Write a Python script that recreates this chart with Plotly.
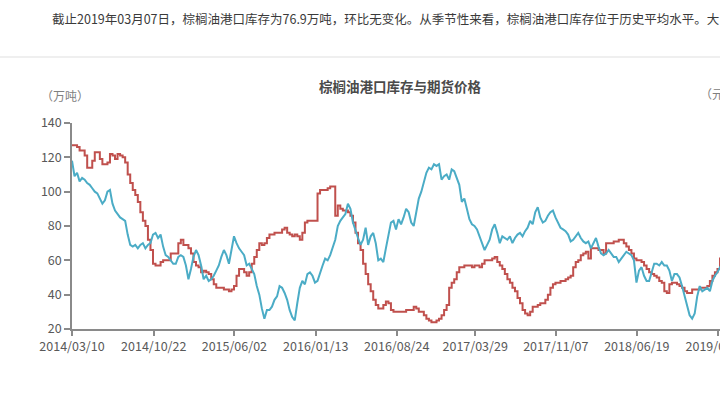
import pandas as pd
import plotly.graph_objects as go

# ---- data ----
start_date = "2014-03-10"          # first weekly observation
tick_dates = ["2014-03-10", "2014-10-22", "2015-06-02", "2016-01-13", "2016-08-24",
              "2017-03-29", "2017-11-07", "2018-06-19", "2019-01-30"]

# palm oil port inventory, 万吨 (weekly)
inventory = [
    127, 127, 126, 124, 124, 121, 114, 114, 118, 123,
    123, 119, 116, 116, 117, 122, 121, 119, 122, 121,
    120, 117, 110, 105, 101, 98, 94, 88, 83, 80,
    72, 66, 58, 57, 57, 59, 60, 60, 60, 64,
    64, 64, 70, 72, 69, 69, 67, 64, 59, 57,
    56, 53, 54, 53, 52, 49, 46, 44, 44, 44,
    43, 43, 42, 43, 45, 51, 55, 55, 53, 51,
    53, 58, 62, 66, 70, 69, 70, 73, 75, 75,
    76, 76, 76, 78, 79, 76, 75, 74, 75, 74,
    72, 76, 82, 83, 83, 83, 83, 99, 101, 101,
    101, 102, 103, 103, 86, 92, 90, 89, 89, 88,
    86, 82, 76, 70, 66, 58, 52, 46, 42, 37,
    34, 32, 32, 34, 36, 35, 31, 30, 30, 30,
    30, 30, 31, 31, 31, 33, 32, 30, 30, 28,
    26, 25, 24, 24, 25, 26, 28, 31, 34, 44,
    47, 49, 53, 56, 56, 57, 57, 57, 56, 57,
    57, 56, 58, 60, 60, 60, 61, 62, 59, 57,
    55, 52, 49, 47, 44, 42, 38, 35, 31, 29,
    28, 30, 33, 33, 34, 35, 35, 37, 40, 44,
    46, 47, 47, 48, 48, 49, 50, 51, 56, 59,
    60, 63, 64, 65, 61, 67, 67, 67, 66, 66,
    64, 70, 70, 70, 71, 71, 72, 72, 70, 68,
    66, 64, 61, 60, 60, 59, 57, 55, 53, 52,
    51, 50, 48, 47, 42, 41, 46, 47, 47, 46,
    45, 44, 42, 41, 41, 43, 43, 43, 44, 44,
    44, 45, 48, 51, 53, 55, 61, 62,
]

# palm oil futures price, 元/吨 (weekly)
futures = [
    6450, 6225, 6275, 6150, 6200, 6175, 6125, 6100, 6050, 6000,
    5975, 5900, 5825, 5875, 6000, 6025, 5825, 5725, 5675, 5625,
    5600, 5575, 5375, 5225, 5200, 5225, 5175, 5225, 5250, 5175,
    5225, 5250, 5375, 5400, 5325, 5375, 5200, 5075, 5050, 5000,
    4950, 4950, 5050, 5075, 5050, 4925, 4725, 4875, 5050, 5150,
    5075, 4925, 4725, 4775, 4700, 4725, 4775, 4850, 4925, 5050,
    5150, 5075, 4950, 5150, 5350, 5250, 5175, 5125, 5075, 4925,
    4950, 4875, 4800, 4625, 4500, 4300, 4150, 4275, 4275, 4325,
    4425, 4475, 4625, 4600, 4525, 4425, 4275, 4175, 4125, 4375,
    4600, 4700, 4650, 4800, 4825, 4775, 4675, 4700, 4825, 4925,
    5025, 5000, 5075, 5175, 5300, 5500, 5575, 5625, 5675, 5825,
    5750, 5550, 5425, 5325, 5225, 5300, 5475, 5225, 5350, 5400,
    5250, 5000, 5025, 4975, 5175, 5350, 5550, 5575, 5450, 5600,
    5525, 5625, 5750, 5700, 5550, 5500, 5700, 5900, 6000, 6150,
    6275, 6350, 6325, 6400, 6375, 6400, 6175, 6225, 6250, 6175,
    6325, 6300, 6200, 6100, 5850, 5900, 5750, 5600, 5525, 5500,
    5450, 5350, 5250, 5150, 5225, 5300, 5450, 5525, 5400, 5250,
    5350, 5325, 5300, 5350, 5250, 5325, 5375, 5400, 5350, 5425,
    5475, 5575, 5525, 5700, 5775, 5625, 5550, 5575, 5650, 5700,
    5725, 5625, 5550, 5475, 5450, 5425, 5375, 5275, 5300, 5350,
    5400, 5325, 5275, 5250, 5275, 5175, 5250, 5325, 5200, 5100,
    5075, 5100, 5150, 5100, 5050, 5050, 4975, 5025, 5075, 5125,
    5100, 5075, 5000, 4675, 4850, 4900, 4775, 4700, 4700, 4825,
    4950, 4950, 4925, 4975, 4925, 4925, 4850, 4700, 4800, 4800,
    4750, 4625, 4475, 4325, 4200, 4150, 4225, 4475, 4625, 4550,
    4575, 4600, 4550, 4700, 4775, 4825, 4900, 4950,
]

dates = pd.date_range(start_date, periods=len(inventory), freq="7D")

top_text = "截止2019年03月07日，棕榈油港口库存为76.9万吨，环比无变化。从季节性来看，棕榈油港口库存位于历史平均水平。大"
chart_title = "棕榈油港口库存与期货价格"
left_unit = "（万吨）"
right_unit = "（元/吨）"

# ---- styling ----
FONT = "Noto Sans CJK SC, Microsoft YaHei, sans-serif"
RED = "#c0504d"
BLUE = "#4bacc6"
AXIS = "#8a8a8a"
TICKTXT = "#595959"

W, H = 720, 409
L, R, T, B = 72, 0, 123, 80
plot_w = W - L - R
plot_h = H - T - B


def px_x(px):
    return (px - L) / plot_w


def px_y(py):
    return (H - B - py) / plot_h


fig = go.Figure()
fig.add_trace(go.Scatter(
    x=dates, y=inventory, mode="lines", line=dict(color=RED, width=2, shape="hv"),
    name="港口库存", yaxis="y"))
fig.add_trace(go.Scatter(
    x=dates, y=futures, mode="lines", line=dict(color=BLUE, width=2),
    name="期货价格", yaxis="y2"))

fig.update_layout(
    width=W, height=H,
    margin=dict(l=L, r=R, t=T, b=B, pad=0, autoexpand=False),
    paper_bgcolor="white", plot_bgcolor="white",
    showlegend=False,
    font=dict(family=FONT, color=TICKTXT),
    xaxis=dict(
        type="date", range=["2014-03-10", "2019-02-04"],
        tickvals=tick_dates, tickformat="%Y/%m/%d",
        ticklabeloverflow="allow", automargin=False,
        showline=True, linecolor=AXIS, linewidth=1.5,
        ticks="outside", ticklen=5, tickcolor=AXIS, tickwidth=1.5,
        tickfont=dict(size=12.5, color=TICKTXT, family=FONT),
        showgrid=False, zeroline=False),
    yaxis=dict(
        range=[20, 140], dtick=20, tick0=20, automargin=False,
        showline=True, linecolor=AXIS, linewidth=1.5,
        ticks="outside", ticklen=6, tickcolor=AXIS, tickwidth=1.5,
        tickfont=dict(size=12.5, color=TICKTXT, family=FONT),
        showgrid=False, zeroline=False),
    yaxis2=dict(overlaying="y", side="right", range=[4000, 7000], visible=False),
)

fig.add_annotation(text=top_text, xref="paper", yref="paper", x=px_x(50), y=px_y(18),
                   xanchor="left", yanchor="middle", showarrow=False,
                   font=dict(size=12.5, color="#3a3a3a", family=FONT))
fig.add_annotation(text="<b>" + chart_title + "</b>", xref="paper", yref="paper",
                   x=px_x(400), y=px_y(86), xanchor="center", yanchor="middle",
                   showarrow=False, font=dict(size=13.5, color="#4a4a4a", family=FONT))
fig.add_annotation(text=left_unit, xref="paper", yref="paper", x=px_x(39), y=px_y(95),
                   xanchor="left", yanchor="middle", showarrow=False,
                   font=dict(size=12, color="#808080", family=FONT))
fig.add_annotation(text=right_unit, xref="paper", yref="paper", x=px_x(698), y=px_y(93),
                   xanchor="left", yanchor="middle", showarrow=False,
                   font=dict(size=12, color="#808080", family=FONT))
fig.add_shape(type="line", xref="paper", yref="paper", x0=px_x(0), x1=px_x(720),
              y0=px_y(57), y1=px_y(57), line=dict(color="#efefef", width=2))

fig.write_html("out.html")
